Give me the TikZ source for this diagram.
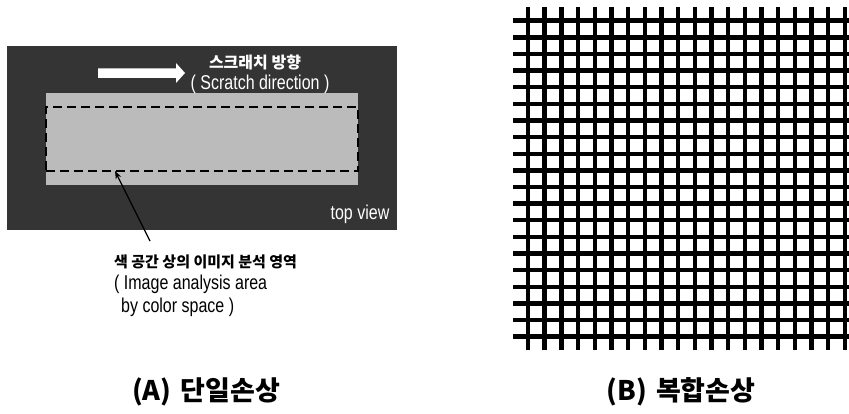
\documentclass[tikz,border=0pt]{standalone}
\usepackage{fontspec}
\setmainfont{Liberation Sans}
\newfontfamily\kr{Noto Sans CJK KR}
\newfontfamily\narrowfont{Liberation Sans}[FakeStretch=0.8]
\usetikzlibrary{arrows.meta}
\definecolor{paneldark}{RGB}{52,52,52}
\definecolor{strip}{RGB}{187,187,187}
\tikzset{
  gridline/.style={line width=4.4pt, black},
  krlabel/.style={font=\kr\bfseries\fontsize{16}{18}\selectfont, inner sep=0pt},
  narrowlabel/.style={font=\narrowfont\fontsize{20}{22}\selectfont, inner sep=0pt},
  caption/.style={font=\kr\bfseries\fontsize{27}{30}\selectfont, inner sep=0pt},
}
\begin{document}
\begin{tikzpicture}[x=1pt,y=-1pt]
\useasboundingbox[fill=white] (0,0) rectangle (849,414);
% left panel
\node[fill=paneldark, minimum width=390pt, minimum height=184pt, inner sep=0pt] (panel) at (202,138) {};
\node[fill=strip, minimum width=312pt, minimum height=92pt, inner sep=0pt] (strip) at (202,139) {};
\node[draw=black, dashed, dash pattern=on 9pt off 5pt, line width=2pt, minimum width=312pt, minimum height=64pt, inner sep=0pt] (area) at (202,139) {};
% white arrow
\fill[white] (98,68.5) -- (176,68.5) -- (176,63) -- (185,73) -- (176,83) -- (176,78) -- (98,78) -- cycle;
\node[krlabel, text=white] (dirkr) at (255,62) {스크래치 방향};
\node[narrowlabel, text=white] (diren) at (260,84) {( Scratch direction )};
\node[narrowlabel, text=white] (topview) at (360,214) {top view};
% annotation
\node[krlabel, anchor=west, font=\kr\bfseries\fontsize{15}{17}\selectfont] (arealabel) at (114,262) {색 공간 상의 이미지 분석 영역};
\node[narrowlabel, anchor=west] (arealine1) at (114,284) {( Image analysis area};
\node[narrowlabel, anchor=west] (arealine2) at (121,307) {by color space )};
\coordinate (tail) at (150,241);
\coordinate (tip) at (115,171);
\draw[line width=1.3pt, -{Stealth[length=8pt,width=6pt]}] (tail) -- (tip);
% grid
\begin{scope}
\clip (0,0) rectangle (849,414);
\foreach \i in {0,...,19} {
  \draw[gridline] ({528+16.68*\i},7) -- ({528+16.68*\i},350);
}
\foreach \j in {0,...,19} {
  \draw[gridline] (513,{20.7+16.63*\j}) -- (860,{20.7+16.63*\j});
}
\end{scope}
% captions
\node[caption] (capA) at (206,392) {(A)\hspace{3pt} 단일손상};
\node[caption] (capB) at (681,392) {(B)\hspace{3pt} 복합손상};
\end{tikzpicture}
\end{document}
